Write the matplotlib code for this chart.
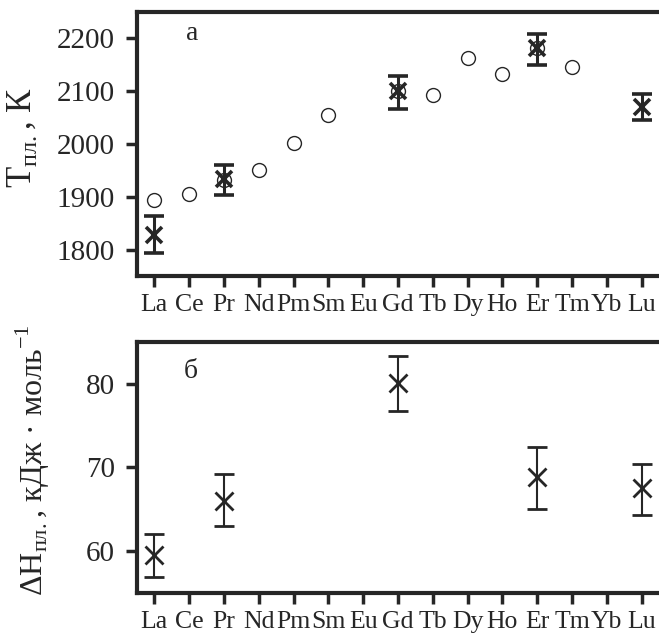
import numpy as np
import matplotlib.pyplot as plt

# font setup
plt.rcParams['font.family'] = 'Liberation Serif'
plt.rcParams['mathtext.fontset'] = 'custom'
plt.rcParams['mathtext.rm'] = 'Liberation Serif'

elements = ['La', 'Ce', 'Pr', 'Nd', 'Pm', 'Sm', 'Eu', 'Gd', 'Tb', 'Dy',
            'Ho', 'Er', 'Tm', 'Yb', 'Lu']

# panel a: reference melting points (circles)
ref_elems = ['La', 'Ce', 'Pr', 'Nd', 'Pm', 'Sm', 'Gd', 'Tb', 'Dy', 'Ho', 'Er', 'Tm']
ref_tm = [1893, 1905, 1932, 1950, 2002, 2055, 2100, 2092, 2163, 2132, 2182, 2145]

# panel a: measured melting points with errors (crosses)
meas_elems = ['La', 'Pr', 'Gd', 'Er', 'Lu']
meas_tm = [1828, 1933, 2100, 2182, 2070]
meas_tm_lo = [1794, 1904, 2067, 2150, 2045]
meas_tm_hi = [1864, 1960, 2128, 2209, 2094]

# panel b: enthalpy of melting
dh = [59.6, 66.0, 80.1, 68.9, 67.5]
dh_lo = [56.9, 63.0, 76.7, 65.0, 64.3]
dh_hi = [62.0, 69.2, 83.3, 72.5, 70.4]

col = '#262626'
W, H = 659, 637
fig = plt.figure(figsize=(W / 100, H / 100), dpi=100)

ax1 = fig.add_axes([137 / W, 1 - 276 / H, 1 - 137 / W, (276 - 12) / H])
ax2 = fig.add_axes([137 / W, 1 - 593 / H, 1 - 137 / W, (593 - 342) / H])

idx = {e: i for i, e in enumerate(elements)}
xr = [idx[e] for e in ref_elems]
xm = [idx[e] for e in meas_elems]

ax1.plot(xr, ref_tm, 'o', ms=10, mfc='none', mec=col, mew=1.0, ls='none')
err1 = [np.array(meas_tm) - np.array(meas_tm_lo), np.array(meas_tm_hi) - np.array(meas_tm)]
ax1.errorbar(xm, meas_tm, yerr=err1, fmt='x', ms=12, mew=2.6, color=col,
             ecolor=col, elinewidth=2.2, capsize=7.5, capthick=2.2)

err2 = [np.array(dh) - np.array(dh_lo), np.array(dh_hi) - np.array(dh)]
ax2.errorbar(xm, dh, yerr=err2, fmt='x', ms=13, mew=2.0, color=col,
             ecolor=col, elinewidth=1.5, capsize=7.5, capthick=1.5)

for ax in (ax1, ax2):
    ax.set_xlim(-0.5, 14.5)
    ax.set_xticks(range(len(elements)))
    ax.set_xticklabels(elements)
    ax.spines['right'].set_visible(False)
    for s in ('left', 'top', 'bottom'):
        ax.spines[s].set_linewidth(3.0)
        ax.spines[s].set_color(col)
    ax.tick_params(direction='out', length=8, width=2.5, color=col,
                   labelsize=18.5, labelcolor=col, pad=5)
    ax.tick_params(axis='y', labelsize=21, pad=8)

ax1.set_ylim(1750, 2250)
ax1.set_yticks([1800, 1900, 2000, 2100, 2200])
ax2.set_ylim(55, 85)
ax2.set_yticks([60, 70, 80])

ax1.text(1.1, 2210, 'a', fontsize=20, color=col, ha='center', va='center')
ax2.text(1.05, 81.5, 'б', fontsize=20, color=col, ha='center', va='center')

fig.text(22 / W, 1 - 137 / H, r'Т$_{\mathrm{пл.}}$, К', rotation=90,
         fontsize=25, color=col, ha='center', va='center')
fig.text(33 / W, 1 - 460 / H, r'ΔН$_{\mathrm{пл.}}$, кДж · моль$^{-1}$', rotation=90,
         fontsize=23, color=col, ha='center', va='center')

fig.savefig('out.png', dpi=100)
